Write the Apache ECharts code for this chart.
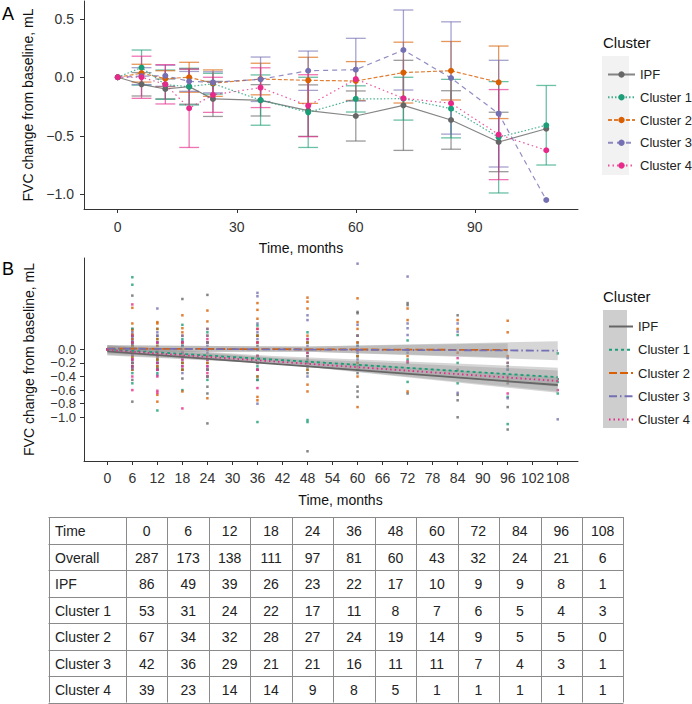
<!DOCTYPE html>
<html><head><meta charset="utf-8">
<script src="https://cdn.jsdelivr.net/npm/echarts@6/dist/echarts.min.js"></script>
<style>html,body{margin:0;padding:0;background:#fff}#c{width:692px;height:704px}</style>
</head><body><div id="c"></div>
<script>
// ---------- DATA ----------
const times = [0, 6, 12, 18, 24, 36, 48, 60, 72, 84, 96, 108];
const clusterNames = ['IPF', 'Cluster 1', 'Cluster 2', 'Cluster 3', 'Cluster 4'];

// Panel A: mean change and error-bar half width (null = none)
const meanIPF = [0, -0.06, -0.10, -0.08, -0.185, -0.197, -0.285, -0.331, -0.24, -0.365, -0.553, -0.44];
const errIPF  = [null, 0.10, 0.085, 0.15, 0.15, 0.134, 0.22, 0.214, 0.385, 0.25, 0.254, null];
const meanC1  = [0, 0.083, -0.063, -0.08, -0.055, -0.195, -0.30, -0.185, -0.183, -0.268, -0.513, -0.41];
const errC1   = [null, 0.15, 0.125, 0.157, 0.089, 0.215, 0.30, 0.112, 0.183, 0.25, 0.476, 0.34];
const meanC2  = [0, 0.035, -0.012, 0.0, -0.05, -0.015, -0.026, -0.032, 0.04, 0.056, -0.043, null];
const errC2   = [null, 0.076, 0.068, 0.128, 0.113, 0.135, 0.197, 0.166, 0.26, 0.25, 0.31, null];
const meanC3  = [0, 0.01, 0.013, -0.035, -0.043, -0.017, 0.056, 0.065, 0.233, -0.006, -0.311, -1.049];
const errC3   = [null, 0.072, 0.09, 0.085, 0.09, 0.19, 0.168, 0.268, 0.342, 0.48, 0.456, null];
const meanC4  = [0, 0.0, -0.06, -0.265, -0.15, -0.089, -0.243, -0.015, -0.18, -0.222, -0.49, -0.624];
const errC4   = [null, 0.18, 0.168, 0.335, 0.15, 0.17, 0.265, null, null, null, 0.385, null];

// Panel B: individual observations per time point (aligned with times)
const obsIPF = [[0],[0.79,0.3,0.2,0.15,0.1,0.05,0,-0.05,-0.1,-0.15,-0.2,-0.25,-0.3,-0.45,-0.77],[0.2,0.1,0,-0.05,-0.1,-0.15,-0.2,-0.25,-0.3],[0.74,0.1,0.05,-0.05,-0.1,-0.2,-0.3,-0.43],[0.8,0.1,0,-0.1,-0.2,-0.3,-0.4,-0.55,-0.65,-1.09],[0.2,0.05,-0.1,-0.2,-0.3,-0.45],[0.1,0,-0.15,-0.25,-0.35,-1.5],[0.55,0.53,0.1,-0.1,-0.25,-0.35,-0.55,-0.62,-0.7],[0.68,0.65,-0.2,-0.65],[0.5,-0.3,-0.67,-0.75,-1.0],[-0.25,-0.5,-0.85,-1.18],[-0.44]];
const obsC1  = [[0],[1.06,0.95,0.3,0.2,0.1,0.05,0,-0.05,-0.1,-0.2,-0.25,-0.35,-0.5],[0.3,0.15,0.05,-0.05,-0.1,-0.15,-0.2,-0.28,-0.35,-0.9],[0.36,0.15,0.05,-0.1,-0.2,-0.3,-0.6],[0.25,0.1,0,-0.15,-0.3,-0.45],[0.35,0.2,0.1,-0.1,-0.25,-0.4,-0.45,-1.07],[0.25,0.1,-0.05,-0.2,-0.3,-1.04,-1.07],[0.2,0.05,-0.1,-0.2,-0.3],[0.13,-0.15,-0.48],[0.21,-0.2,-0.5],[-0.3,-0.4,-0.7,-1.1],[-0.06,-0.48,-0.65]];
const obsC2  = [[0],[0.61,0.38,0.28,0.22,0.15,0.1,0.05,0,-0.05,-0.12,-0.2,-0.3],[0.4,0.38,0.3,0.15,0.05,-0.05,-0.15,-0.25,-0.3,-0.67,-0.77],[0.5,0.31,0.25,0.2,0.1,0,-0.1,-0.2,-0.3,-0.62],[0.57,0.41,0.3,0.2,0.1,0,-0.1,-0.2,-0.3,-0.4,-0.72],[0.68,0.58,0.45,0.3,0.2,0.1,0,-0.1,-0.2,-0.3,-0.4,-0.7,-0.75],[0.76,0.7,0.6,0.2,0.1,0,-0.1,-0.2,-0.3,-0.52,-0.62],[0.75,0.4,0.3,0.2,0.1,0,-0.1,-0.2,-0.3,-0.4,-0.85],[0.6,0.43,0,-0.1,-0.62],[0.43,0.3,-0.05],[0.42,0.25,-0.1,-0.2,-0.45],[]];
const obsC3  = [[0],[0.25,0.18,0.12,0.08,0.02,-0.02,-0.08,-0.15,-0.2,-0.28],[0.6,0.25,0.2,0.1,0,-0.1,-0.2,-0.3,-0.38],[0.2,0.12,0.05,-0.05,-0.15,-0.25,-0.35],[0.3,0.2,0.1,0.05,-0.05,-0.15,-0.25,-0.3,-0.4],[0.83,0.78,0.38,0.25,0.15,0,-0.1,-0.2,-0.3,-0.8],[0.5,0.43,0.15,0.05,-0.1,-0.25,-0.4],[1.26,0.36,0.2,0.05,-0.05,-0.15],[1.07,0.38,0.31,0.21,-0.05],[0.38,0.26,-0.64],[-0.13,-0.2,-0.3,-0.72],[-1.03]];
const obsC4  = [[0],[0.66,0.2,0.1,0,-0.08,-0.15,-0.25,-0.4,-0.6],[0.1,0,-0.1,-0.2,-0.3,-0.4,-0.61,-0.64],[0.1,-0.05,-0.15,-0.25,-0.87],[0.15,0,-0.15,-0.25,-0.35],[0.3,0.1,-0.1,-0.3,-0.57],[0.15,-0.05,-0.2],[-0.02],[-0.18],[-0.13],[-0.65],[-0.6]];

// Panel B: fitted lines (start/end) and confidence bands
const fitIPF = [[0, -0.03], [108, -0.525]];
const fitC1  = [[0, 0.0], [108, -0.41]];
const fitC2  = [[0, 0.01], [96, -0.01]];
const fitC3  = [[0, 0.01], [108, -0.02]];
const fitC4  = [[0, -0.01], [108, -0.466]];
const bandIPF = [[0, -0.09, 0.03], [40, -0.21, -0.13], [108, -0.64, -0.41]];
const bandC1  = [[0, -0.06, 0.06], [40, -0.19, -0.10], [108, -0.55, -0.27]];
const bandC2  = [[0, -0.04, 0.06], [48, -0.035, 0.04], [96, -0.12, 0.09]];
const bandC3  = [[0, -0.04, 0.06], [48, -0.035, 0.04], [108, -0.16, 0.12]];
const bandC4  = [[0, -0.08, 0.06], [40, -0.21, -0.12], [108, -0.62, -0.31]];

// Tick labels
const xTicksA = [0, 30, 60, 90];
const yTicksA = [0.5, 0, -0.5, -1];
const xTicksB = [0, 6, 12, 18, 24, 30, 36, 42, 48, 54, 60, 66, 72, 78, 84, 90, 96, 102, 108];
const yTicksB = [0, -0.2, -0.4, -0.6, -0.8, -1.0];

// Table (numbers at risk)
const tableTimes = [0, 6, 12, 18, 24, 36, 48, 60, 72, 84, 96, 108];
const rowOverall = [287, 173, 138, 111, 97, 81, 60, 43, 32, 24, 21, 6];
const rowIPF = [86, 49, 39, 26, 23, 22, 17, 10, 9, 9, 8, 1];
const rowC1 = [53, 31, 24, 22, 17, 11, 8, 7, 6, 5, 4, 3];
const rowC2 = [67, 34, 32, 28, 27, 24, 19, 14, 9, 5, 5, 0];
const rowC3 = [42, 36, 29, 21, 21, 16, 11, 11, 7, 4, 3, 1];
const rowC4 = [39, 23, 14, 14, 9, 8, 5, 1, 1, 1, 1, 1];

// ---------- STYLE ----------
const FONT = '"Liberation Sans", Arial, sans-serif';
const colors = ['#666666', '#1B9E77', '#D95F02', '#7570B3', '#E7298A'];
const dashA = ['solid', [1.5, 2], [4, 2], [5, 4], [1.5, 3]];
const dashB = ['solid', [3, 3], [8, 3], [8, 3, 1.5, 3], [1.5, 3]];
const means = [meanIPF, meanC1, meanC2, meanC3, meanC4];
const errs = [errIPF, errC1, errC2, errC3, errC4];
const obs = [obsIPF, obsC1, obsC2, obsC3, obsC4];
const fits = [fitIPF, fitC1, fitC2, fitC3, fitC4];
const bands = [bandIPF, bandC1, bandC2, bandC3, bandC4];
const capHalf = 2.5;

function fmt(v) {
  const s = Math.abs(v).toFixed(1);
  return v < -1e-9 ? '\u2212' + s : s;
}

const series = [];
// Panel A lines + points
clusterNames.forEach((name, k) => {
  const data = times.map((t, i) => means[k][i] == null ? null : [t, means[k][i]]).filter(Boolean);
  series.push({
    name, type: 'line', xAxisIndex: 0, yAxisIndex: 0, data, z: 4,
    symbol: 'circle', symbolSize: 6, showSymbol: true,
    itemStyle: { color: colors[k] },
    lineStyle: { color: colors[k], width: 1.2, type: dashA[k], opacity: 0.8 },
    emphasis: { disabled: true }, animation: false
  });
});
// Panel A error bars
clusterNames.forEach((name, k) => {
  const data = times.map((t, i) => errs[k][i] == null ? null : [t, means[k][i] - errs[k][i], means[k][i] + errs[k][i]]).filter(Boolean);
  const col = colors[k];
  series.push({
    name: name + ' error', type: 'custom', xAxisIndex: 0, yAxisIndex: 0, data, z: 2,
    encode: { x: 0, y: [1, 2] },
    renderItem: function (params, api) {
      const t = api.value(0), lo = api.value(1), hi = api.value(2);
      const pLo = api.coord([t, lo]), pHi = api.coord([t, hi]);
      const hw = (api.coord([t + capHalf, lo])[0] - api.coord([t - capHalf, lo])[0]) / 2;
      const st = { stroke: col, lineWidth: 1.3, opacity: 0.65 };
      return { type: 'group', children: [
        { type: 'line', shape: { x1: pLo[0], y1: pLo[1], x2: pHi[0], y2: pHi[1] }, style: st },
        { type: 'line', shape: { x1: pLo[0] - hw, y1: pLo[1], x2: pLo[0] + hw, y2: pLo[1] }, style: st },
        { type: 'line', shape: { x1: pHi[0] - hw, y1: pHi[1], x2: pHi[0] + hw, y2: pHi[1] }, style: st }
      ] };
    },
    animation: false, silent: true
  });
});
// Panel B observations
clusterNames.forEach((name, k) => {
  const data = [];
  times.forEach((t, i) => obs[k][i].forEach(v => data.push([t, v])));
  series.push({
    name: name + ' obs', type: 'scatter', xAxisIndex: 1, yAxisIndex: 1, data, z: 1,
    symbol: 'rect', symbolSize: 2.5, itemStyle: { color: colors[k] },
    emphasis: { disabled: true }, animation: false, silent: true
  });
});
// Panel B confidence bands
clusterNames.forEach((name, k) => {
  const b = bands[k];
  series.push({
    name: name + ' band', type: 'custom', xAxisIndex: 1, yAxisIndex: 1, data: b, z: 2,
    encode: { x: 0, y: [1, 2] },
    renderItem: function (params, api) {
      if (params.dataIndex !== 0) return null;
      const pts = [];
      for (let i = 0; i < b.length; i++) pts.push(api.coord([b[i][0], b[i][1]]));
      for (let i = b.length - 1; i >= 0; i--) pts.push(api.coord([b[i][0], b[i][2]]));
      return { type: 'polygon', shape: { points: pts }, style: { fill: 'rgba(153,153,153,0.4)' } };
    },
    animation: false, silent: true
  });
});
// Panel B fitted lines
clusterNames.forEach((name, k) => {
  series.push({
    name: name + ' ', type: 'line', xAxisIndex: 1, yAxisIndex: 1, data: fits[k], z: 3,
    symbol: 'none', showSymbol: false,
    itemStyle: { color: colors[k] },
    lineStyle: { color: colors[k], width: 1.8, type: dashB[k] },
    emphasis: { disabled: true }, animation: false
  });
});

// Table graphics
const tbl = [];
const tx0 = 48.5, tx1 = 126, colW = 41.45, ty0 = 517, rowH = 26.5;
const rows = [['Time'].concat(tableTimes), ['Overall'].concat(rowOverall), ['IPF'].concat(rowIPF),
  ['Cluster 1'].concat(rowC1), ['Cluster 2'].concat(rowC2), ['Cluster 3'].concat(rowC3), ['Cluster 4'].concat(rowC4)];
const tRight = tx1 + colW * tableTimes.length;
for (let r = 0; r <= rows.length; r++) {
  const y = Math.round(ty0 + r * rowH) + 0.5;
  tbl.push({ type: 'line', shape: { x1: tx0, y1: y, x2: tRight, y2: y }, style: { stroke: '#8a8a8a', lineWidth: 1 } });
}
const vx = [tx0, tx1];
for (let c = 1; c <= tableTimes.length; c++) vx.push(tx1 + c * colW);
vx.forEach(x => {
  const xx = Math.round(x) + 0.5;
  tbl.push({ type: 'line', shape: { x1: xx, y1: ty0, x2: xx, y2: ty0 + rows.length * rowH }, style: { stroke: '#8a8a8a', lineWidth: 1 } });
});
rows.forEach((row, r) => {
  const yc = ty0 + r * rowH + rowH / 2 + 1;
  row.forEach((cell, c) => {
    if (c === 0) {
      tbl.push({ type: 'text', x: 55, y: yc, style: { text: String(cell), fill: '#222', font: '14px ' + FONT, align: 'left', verticalAlign: 'middle' } });
    } else {
      tbl.push({ type: 'text', x: tx1 + (c - 0.5) * colW, y: yc, style: { text: String(cell), fill: '#222', font: '14px ' + FONT, align: 'center', verticalAlign: 'middle' } });
    }
  });
});

const lineAx = { show: true, onZero: false, lineStyle: { color: '#333', width: 1 } };
const nameStyle = { color: '#111', fontSize: 14, fontFamily: FONT };

const option = {
  animation: false,
  textStyle: { fontFamily: FONT },
  grid: [
    { left: 84, right: 114, top: 1, bottom: 495 },
    { left: 84, right: 114, top: 258, bottom: 243 }
  ],
  xAxis: [
    {
      type: 'value', gridIndex: 0, min: -8.5, max: 116, splitLine: { show: false }, axisLine: lineAx,
      axisTick: { show: true, length: 4, lineStyle: { color: '#333' }, customValues: xTicksA },
      axisLabel: { customValues: xTicksA, color: '#333', fontSize: 14, margin: 11, hideOverlap: false },
      name: 'Time, months', nameLocation: 'middle', nameGap: 32,
      nameTextStyle: Object.assign({}, nameStyle, { padding: [0, 60, 0, 0] })
    },
    {
      type: 'value', gridIndex: 1, min: -5.59, max: 112.86, splitLine: { show: false }, axisLine: lineAx,
      axisTick: { show: true, length: 4, lineStyle: { color: '#333' }, customValues: xTicksB },
      axisLabel: { customValues: xTicksB, color: '#333', fontSize: 14, margin: 10, hideOverlap: false },
      name: 'Time, months', nameLocation: 'middle', nameGap: 32,
      nameTextStyle: Object.assign({}, nameStyle, { padding: [0, 0, 0, 19] })
    }
  ],
  yAxis: [
    {
      type: 'value', gridIndex: 0, min: -1.126, max: 0.652, splitLine: { show: false }, axisLine: lineAx,
      axisTick: { show: true, length: 4, lineStyle: { color: '#333' }, customValues: yTicksA },
      axisLabel: { customValues: yTicksA, color: '#333', fontSize: 14, margin: 10, formatter: fmt, hideOverlap: false },
      name: 'FVC change from baseline, mL', nameLocation: 'middle', nameGap: 48, nameTextStyle: nameStyle
    },
    {
      type: 'value', gridIndex: 1, min: -1.643, max: 1.343, splitLine: { show: false }, axisLine: lineAx,
      axisTick: { show: true, length: 4, lineStyle: { color: '#333' }, customValues: yTicksB },
      axisLabel: { customValues: yTicksB, color: '#333', fontSize: 13, lineHeight: 13, margin: 8, formatter: fmt,
        hideOverlap: false, showMinLabel: true, showMaxLabel: true },
      name: 'FVC change from baseline, mL', nameLocation: 'middle', nameGap: 48, nameTextStyle: nameStyle
    }
  ],
  legend: [
    { orient: 'vertical', left: 602, top: 63, itemWidth: 27, itemHeight: 8, itemGap: 9.75,
      data: clusterNames, selectedMode: false,
      textStyle: { fontSize: 13, color: '#222', fontFamily: FONT } },
    { orient: 'vertical', left: 603, top: 315, itemWidth: 24, itemHeight: 8, itemGap: 10.25,
      data: clusterNames.map(n => n + ' '), selectedMode: false,
      formatter: n => n.trim(), itemStyle: { opacity: 0, borderWidth: 0 },
      textStyle: { fontSize: 13, color: '#222', fontFamily: FONT } }
  ],
  graphic: [
    { type: 'text', x: 2, y: 14, style: { text: 'A', fill: '#000', font: '18px ' + FONT, verticalAlign: 'middle' } },
    { type: 'text', x: 2, y: 269, style: { text: 'B', fill: '#000', font: '18px ' + FONT, verticalAlign: 'middle' } },
    { type: 'text', x: 603, y: 42, style: { text: 'Cluster', fill: '#111', font: '15px ' + FONT, verticalAlign: 'middle' } },
    { type: 'text', x: 603, y: 296, style: { text: 'Cluster', fill: '#111', font: '15px ' + FONT, verticalAlign: 'middle' } },
    { type: 'rect', shape: { x: 602, y: 56, width: 27, height: 119 }, style: { fill: '#f2f2f2' }, z: -1 },
    { type: 'rect', shape: { x: 603, y: 310, width: 24, height: 118 }, style: { fill: '#cecece' }, z: -1 },
    { type: 'group', children: tbl }
  ],
  series
};

const chart = echarts.init(document.getElementById('c'), null, { renderer: 'svg', width: 692, height: 704 });
chart.setOption(option);
</script>
</body></html>
